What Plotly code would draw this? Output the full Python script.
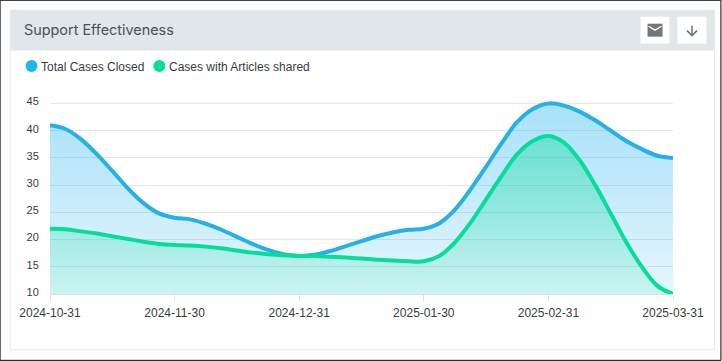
import plotly.graph_objects as go

categories = ["2024-10-31", "2024-11-30", "2024-12-31", "2025-01-30", "2025-02-31", "2025-03-31"]
category_positions = [0, 1, 2, 3, 4, 5]
# Curve heights at eighth steps between the dates
x_read = [0, 0.125, 0.25, 0.375, 0.5, 0.625, 0.75, 0.875,
          1, 1.125, 1.25, 1.375, 1.5, 1.625, 1.75, 1.875,
          2, 2.125, 2.25, 2.375, 2.5, 2.625, 2.75, 2.875,
          3, 3.125, 3.25, 3.375, 3.5, 3.625, 3.75, 3.875,
          4, 4.125, 4.25, 4.375, 4.5, 4.625, 4.75, 4.875, 5]
total_closed = [41, 40.3, 38.4, 35.7, 32.6, 29.4, 26.7, 24.8,
                24, 23.7, 22.9, 21.8, 20.5, 19.2, 18.1, 17.3,
                17, 17.2, 17.9, 18.8, 19.7, 20.6, 21.3, 21.8,
                22, 23, 25.5, 29.2, 33.4, 37.7, 41.6, 44,
                45, 44.6, 43.5, 41.9, 40, 38.1, 36.6, 35.4, 35]
with_articles = [22, 21.9, 21.5, 21.1, 20.6, 20.1, 19.6, 19.2,
                 19, 18.9, 18.7, 18.4, 18.0, 17.6, 17.3, 17.1,
                 17, 17, 16.85, 16.7, 16.5, 16.3, 16.15, 16,
                 16, 17, 19.5, 23.1, 27.4, 31.7, 35.7, 38.1,
                 39, 37.8, 34.6, 30, 24.8, 19.5, 15, 11.5, 10]
y_ticks = [10, 15, 20, 25, 30, 35, 40, 45]
legend_names = ["Total Cases Closed", "Cases with Articles shared"]

W, H = 722, 361
L, R, T, B = 49.5, 673.5, 97.5, 294.0
BLUE = "#27B0E6"
GREEN = "#08DC9B"


def px(x):
    return (x - L) / (R - L)


def py(y):
    return (B - y) / (B - T)


def rect(x0, y0, x1, y1, fill, line=None, lw=1):
    return dict(type="rect", xref="paper", yref="paper", layer="below",
                x0=px(x0), x1=px(x1), y0=py(y0), y1=py(y1),
                fillcolor=fill, line=dict(color=line or fill, width=lw if line else 0))


def circle(cx, cy, r, fill):
    return dict(type="circle", xref="paper", yref="paper", layer="above",
                x0=px(cx - r), x1=px(cx + r), y0=py(cy - r), y1=py(cy + r),
                fillcolor=fill, line=dict(width=0))


def path(points, fill=None, line=None, lw=1.5, close=False):
    d = "M" + " L".join(f"{px(a):.5f},{py(b):.5f}" for a, b in points) + (" Z" if close else "")
    return dict(type="path", xref="paper", yref="paper", path=d, layer="above",
                fillcolor=fill or "rgba(0,0,0,0)", line=dict(color=line or "rgba(0,0,0,0)", width=lw))


def label(text, x, y, size, family, color):
    return dict(text=text, xref="paper", yref="paper", x=px(x), y=py(y),
                xanchor="left", yanchor="middle", showarrow=False,
                font=dict(family=family, size=size, color=color))


fig = go.Figure()
fig.add_trace(go.Scatter(
    x=x_read, y=total_closed, mode="lines", name=legend_names[0], showlegend=False, hoverinfo="skip",
    line=dict(color=BLUE, width=4, shape="spline", smoothing=1.0),
    fill="tozeroy",
    fillgradient=dict(type="vertical", colorscale=[[0, "rgba(36,180,240,0.03)"], [1, "rgba(36,180,240,0.40)"]]),
))
fig.add_trace(go.Scatter(
    x=x_read, y=with_articles, mode="lines", name=legend_names[1], showlegend=False, hoverinfo="skip",
    line=dict(color=GREEN, width=4, shape="spline", smoothing=1.0),
    fill="tozeroy",
    fillgradient=dict(type="vertical", colorscale=[[0, "rgba(8,220,155,0.02)"], [1, "rgba(8,220,155,0.42)"]]),
))

shapes = [
    rect(-0.5, -0.5, 721.5, 360.5, "white", "#000000", 1),
    rect(9.5, 9.5, 715, 350, "white", "#E4E8EA", 1),
    rect(10, 9.5, 714.5, 50, "#E0E6E9"),
    rect(641, 16, 670, 43, "white"),
    rect(678, 16, 707, 43, "white"),
    path([(648, 23), (663, 23), (663, 36), (648, 36)], fill="#757575", close=True),
    path([(649, 25.5), (655.5, 29.5), (662, 25.5)], line="white", lw=1.3),
    path([(692.5, 25), (692.5, 35)], line="#757575", lw=1.6),
    path([(687.5, 30), (692.5, 35), (697.5, 30)], line="#757575", lw=1.6),
    circle(31, 65.5, 6, "#1FB7F0"),
    circle(159, 65.5, 6, GREEN),
]

sans = "Liberation Sans, Arial, sans-serif"
fig.update_layout(
    width=W, height=H, autosize=False,
    margin=dict(l=L, r=W - R, t=T, b=H - B, pad=0),
    paper_bgcolor="white", plot_bgcolor="rgba(0,0,0,0)",
    font=dict(family=sans, size=12, color="#373D3F"),
    shapes=shapes,
    showlegend=False,
    annotations=[
        label("Support Effectiveness", 21, 29, 14.4, "Inter, sans-serif", "#4A5257"),
        label(legend_names[0], 38.5, 66.5, 12, sans, "#373D3F"),
        label(legend_names[1], 166.5, 66.5, 12, sans, "#373D3F"),
    ],
    xaxis=dict(range=[0, 5], tickvals=category_positions, ticktext=categories,
               showgrid=False, zeroline=False, showline=True, linecolor="#E0E0E0",
               ticks="outside", ticklen=6, tickcolor="#E0E0E0", tickangle=0, ticklabelstandoff=2,
               tickfont=dict(size=12, color="#373D3F"), automargin=False),
    yaxis=dict(range=[10, 46], tickvals=y_ticks, showgrid=True, gridcolor="#E6E6E6", gridwidth=1,
               zeroline=False, showline=False, ticks="outside", ticklen=8, tickcolor="rgba(0,0,0,0)",
               ticklabelshift=-2, tickfont=dict(size=11, color="#373D3F"), automargin=False),
)

fig.write_html("out.html", config=dict(displayModeBar=False),
               post_script="document.body.style.margin='0';document.body.style.overflow='hidden';")
